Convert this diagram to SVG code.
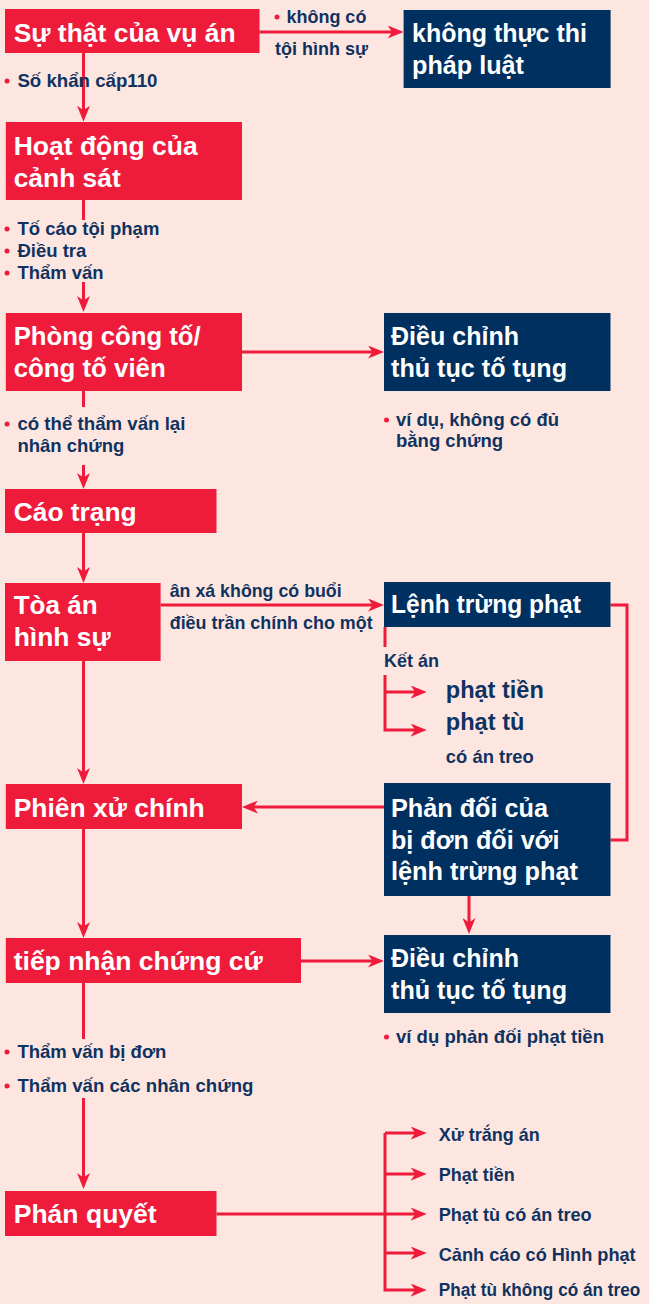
<svg xmlns="http://www.w3.org/2000/svg" width="649" height="1304" viewBox="0 0 649 1304">
<style>
.bg{fill:#FEE6E0}
.red{fill:#EE1B3B}
.navy{fill:#00305F}
.bt{font-family:"Liberation Sans",Arial,sans-serif;font-weight:bold;font-size:26px;fill:#FFFFFF}
.lb{font-family:"Liberation Sans",Arial,sans-serif;font-weight:bold;font-size:18.5px;fill:#0F3360}
.lbl{font-family:"Liberation Sans",Arial,sans-serif;font-weight:bold;font-size:24px;fill:#0F3360}
.dot{fill:#EE1B3B}
.c{fill:none;stroke:#EE1B3B;stroke-width:3}
.ca{fill:none;stroke:#EE1B3B;stroke-width:3;marker-end:url(#ah)}
</style>
<defs>
<marker id="ah" markerUnits="userSpaceOnUse" markerWidth="16" markerHeight="13" refX="8" refY="6.5" orient="auto">
<path d="M0,0 L16,6.5 L0,13 L4.5,6.5 Z" fill="#EE1B3B"/>
</marker>
</defs>
<rect class="bg" x="0" y="0" width="649" height="1304"/>
<g id="connectors">
<path class="ca" d="M259.5,32 H395.6"/>
<path class="ca" d="M83.5,53 V113.7"/>
<path class="c" d="M83.5,200 V220"/>
<path class="ca" d="M83.5,282 V304"/>
<path class="ca" d="M242,352 H376"/>
<path class="c" d="M83.5,391 V407"/>
<path class="ca" d="M83.5,465 V481"/>
<path class="ca" d="M83.5,533 V575"/>
<path class="ca" d="M160.6,605 H376"/>
<path class="c" d="M610.5,605 H627 V840 H610.5"/>
<path class="c" d="M385,627 V647"/>
<path class="ca" d="M385,675 V730 H418.7"/>
<path class="ca" d="M385,692 H418.7"/>
<path class="ca" d="M83.5,661 V776"/>
<path class="ca" d="M384,807 H250"/>
<path class="ca" d="M469,896 V926"/>
<path class="ca" d="M83.5,829 V930"/>
<path class="ca" d="M301,961 H376"/>
<path class="c" d="M83.5,983 V1039"/>
<path class="ca" d="M83.5,1098 V1181"/>
<path class="ca" d="M216.5,1214 H418.7"/>
<path class="ca" d="M385,1133 V1290 H418.7"/>
<path class="ca" d="M385,1133 H418.7"/>
<path class="ca" d="M385,1174 H418.7"/>
<path class="ca" d="M385,1253 H418.7"/>
</g>
<g id="n-facts">
<rect class="red" x="5" y="9" width="254.5" height="44"/>
<text class="bt" x="13.7" y="42" textLength="222" lengthAdjust="spacingAndGlyphs">Sự thật của vụ án</text>
</g>
<g id="l-nocrime">
<circle class="dot" cx="277" cy="17" r="2.5"/>
<text class="lb" x="286.4" y="23" textLength="80" lengthAdjust="spacingAndGlyphs">không có</text>
<text class="lb" x="275" y="55" textLength="93" lengthAdjust="spacingAndGlyphs">tội hình sự</text>
</g>
<g id="n-noenforce">
<rect class="navy" x="403.6" y="10" width="207" height="78"/>
<text class="bt" x="412" y="42" textLength="175" lengthAdjust="spacingAndGlyphs">không thực thi</text>
<text class="bt" x="412" y="74" textLength="112" lengthAdjust="spacingAndGlyphs">pháp luật</text>
</g>
<g id="l-110">
<circle class="dot" cx="7" cy="81" r="2.5"/>
<text class="lb" x="17.4" y="87" textLength="140" lengthAdjust="spacingAndGlyphs">Số khẩn cấp110</text>
</g>
<g id="n-police">
<rect class="red" x="5.8" y="122" width="236.2" height="78"/>
<text class="bt" x="13.7" y="155" textLength="184" lengthAdjust="spacingAndGlyphs">Hoạt động của</text>
<text class="bt" x="13.7" y="187" textLength="107" lengthAdjust="spacingAndGlyphs">cảnh sát</text>
</g>
<g id="l-police">
<circle class="dot" cx="7" cy="229" r="2.5"/>
<text class="lb" x="17.4" y="235" textLength="142" lengthAdjust="spacingAndGlyphs">Tố cáo tội phạm</text>
<circle class="dot" cx="7" cy="251" r="2.5"/>
<text class="lb" x="17.4" y="257" textLength="69" lengthAdjust="spacingAndGlyphs">Điều tra</text>
<circle class="dot" cx="7" cy="273" r="2.5"/>
<text class="lb" x="17.4" y="279" textLength="86" lengthAdjust="spacingAndGlyphs">Thẩm vấn</text>
</g>
<g id="n-prosecutor">
<rect class="red" x="5.8" y="313" width="236.2" height="78"/>
<text class="bt" x="13.7" y="345" textLength="187" lengthAdjust="spacingAndGlyphs">Phòng công tố/</text>
<text class="bt" x="13.7" y="377" textLength="152" lengthAdjust="spacingAndGlyphs">công tố viên</text>
</g>
<g id="n-adjust1">
<rect class="navy" x="384" y="313" width="226.5" height="78"/>
<text class="bt" x="391" y="345" textLength="128" lengthAdjust="spacingAndGlyphs">Điều chỉnh</text>
<text class="bt" x="391" y="377" textLength="176" lengthAdjust="spacingAndGlyphs">thủ tục tố tụng</text>
</g>
<g id="l-adjust1">
<circle class="dot" cx="386.5" cy="420" r="2.5"/>
<text class="lb" x="396" y="426" textLength="163" lengthAdjust="spacingAndGlyphs">ví dụ, không có đủ</text>
<text class="lb" x="396" y="447" textLength="107" lengthAdjust="spacingAndGlyphs">bằng chứng</text>
</g>
<g id="l-prosecutor">
<circle class="dot" cx="7" cy="424" r="2.5"/>
<text class="lb" x="17.4" y="430" textLength="168" lengthAdjust="spacingAndGlyphs">có thể thẩm vấn lại</text>
<text class="lb" x="17.4" y="452" textLength="107" lengthAdjust="spacingAndGlyphs">nhân chứng</text>
</g>
<g id="n-indictment">
<rect class="red" x="5" y="489" width="211.5" height="44"/>
<text class="bt" x="13.7" y="521" textLength="123" lengthAdjust="spacingAndGlyphs">Cáo trạng</text>
</g>
<g id="n-court">
<rect class="red" x="5" y="583" width="155.6" height="78"/>
<text class="bt" x="13.7" y="614" textLength="84" lengthAdjust="spacingAndGlyphs">Tòa án</text>
<text class="bt" x="13.7" y="646" textLength="97" lengthAdjust="spacingAndGlyphs">hình sự</text>
</g>
<g id="l-court">
<text class="lb" x="169.7" y="597" textLength="172" lengthAdjust="spacingAndGlyphs">ân xá không có buổi</text>
<text class="lb" x="169.7" y="629" textLength="203" lengthAdjust="spacingAndGlyphs">điều trần chính cho một</text>
</g>
<g id="n-order">
<rect class="navy" x="384" y="582" width="226.5" height="45"/>
<text class="bt" x="391" y="613" textLength="190" lengthAdjust="spacingAndGlyphs">Lệnh trừng phạt</text>
</g>
<g id="l-order">
<text class="lb" x="384" y="667" textLength="55" lengthAdjust="spacingAndGlyphs">Kết án</text>
<text class="lbl" x="445.8" y="698" textLength="98" lengthAdjust="spacingAndGlyphs">phạt tiền</text>
<text class="lbl" x="445.8" y="730" textLength="78.6" lengthAdjust="spacingAndGlyphs">phạt tù</text>
<text class="lb" x="445.8" y="763" textLength="88" lengthAdjust="spacingAndGlyphs">có án treo</text>
</g>
<g id="n-trial">
<rect class="red" x="5.8" y="784" width="236.2" height="45"/>
<text class="bt" x="13.7" y="817" textLength="191" lengthAdjust="spacingAndGlyphs">Phiên xử chính</text>
</g>
<g id="n-objection">
<rect class="navy" x="384" y="783" width="226.5" height="113"/>
<text class="bt" x="391" y="817" textLength="157" lengthAdjust="spacingAndGlyphs">Phản đối của</text>
<text class="bt" x="391" y="849" textLength="168.5" lengthAdjust="spacingAndGlyphs">bị đơn đối với</text>
<text class="bt" x="391" y="880" textLength="187" lengthAdjust="spacingAndGlyphs">lệnh trừng phạt</text>
</g>
<g id="n-evidence">
<rect class="red" x="5.8" y="938" width="295.2" height="45"/>
<text class="bt" x="13.7" y="970" textLength="249" lengthAdjust="spacingAndGlyphs">tiếp nhận chứng cứ</text>
</g>
<g id="n-adjust2">
<rect class="navy" x="384" y="935" width="226.5" height="78"/>
<text class="bt" x="391" y="967" textLength="128" lengthAdjust="spacingAndGlyphs">Điều chỉnh</text>
<text class="bt" x="391" y="999" textLength="176" lengthAdjust="spacingAndGlyphs">thủ tục tố tụng</text>
</g>
<g id="l-adjust2">
<circle class="dot" cx="386.5" cy="1037" r="2.5"/>
<text class="lb" x="396" y="1043" textLength="208" lengthAdjust="spacingAndGlyphs">ví dụ phản đối phạt tiền</text>
</g>
<g id="l-evidence">
<circle class="dot" cx="7" cy="1052" r="2.5"/>
<text class="lb" x="17.4" y="1058" textLength="149" lengthAdjust="spacingAndGlyphs">Thẩm vấn bị đơn</text>
<circle class="dot" cx="7" cy="1086" r="2.5"/>
<text class="lb" x="17.4" y="1092" textLength="236" lengthAdjust="spacingAndGlyphs">Thẩm vấn các nhân chứng</text>
</g>
<g id="n-verdict">
<rect class="red" x="5" y="1191" width="211.5" height="45"/>
<text class="bt" x="13.7" y="1223" textLength="143" lengthAdjust="spacingAndGlyphs">Phán quyết</text>
</g>
<g id="l-outcomes">
<text class="lb" x="438.7" y="1141" textLength="101" lengthAdjust="spacingAndGlyphs">Xử trắng án</text>
<text class="lb" x="438.7" y="1181" textLength="76" lengthAdjust="spacingAndGlyphs">Phạt tiền</text>
<text class="lb" x="438.7" y="1221" textLength="153" lengthAdjust="spacingAndGlyphs">Phạt tù có án treo</text>
<text class="lb" x="438.7" y="1261" textLength="197" lengthAdjust="spacingAndGlyphs">Cảnh cáo có Hình phạt</text>
<text class="lb" transform="translate(438.7,1296) scale(0.93,1)" x="0" y="0">Phạt tù không có án treo</text>
</g>
</svg>
